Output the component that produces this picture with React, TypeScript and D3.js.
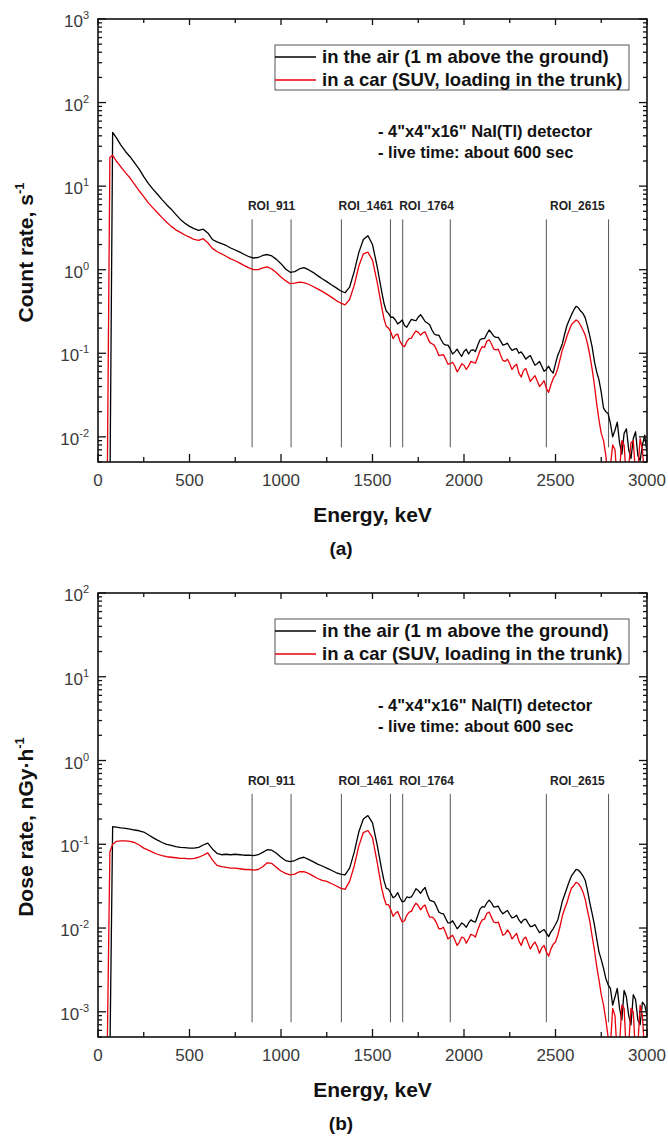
import React, { useRef, useEffect } from "react";
import * as d3 from "d3";

// energy channels (keV) shared by all four spectra; finer above 1550 keV where the spectra are noisy
const energies = [
  50, 65, 80,
  100, 125, 150, 175, 200, 225, 250, 275, 300, 325, 350, 375, 400, 425, 450, 475,
  500, 525, 550, 575, 600, 625, 650, 675, 700, 725, 750, 775, 800, 825, 850, 875, 900, 925, 950, 975,
  1000, 1025, 1050, 1075, 1100, 1125, 1150, 1175, 1200, 1225, 1250, 1275, 1300, 1325, 1350, 1375, 1400, 1425, 1450, 1475,
  1500, 1525,
  1550, 1562.5, 1575, 1587.5, 1600, 1612.5, 1625, 1637.5, 1650, 1662.5, 1675, 1687.5, 1700, 1712.5, 1725, 1737.5, 1750, 1762.5, 1775, 1787.5,
  1800, 1812.5, 1825, 1837.5, 1850, 1862.5, 1875, 1887.5, 1900, 1912.5, 1925, 1937.5, 1950, 1962.5, 1975, 1987.5, 2000, 2012.5, 2025, 2037.5,
  2050, 2062.5, 2075, 2087.5, 2100, 2112.5, 2125, 2137.5, 2150, 2162.5, 2175, 2187.5, 2200, 2212.5, 2225, 2237.5, 2250, 2262.5, 2275, 2287.5,
  2300, 2312.5, 2325, 2337.5, 2350, 2362.5, 2375, 2387.5, 2400, 2412.5, 2425, 2437.5, 2450, 2462.5, 2475, 2487.5, 2500, 2512.5, 2525, 2537.5,
  2550, 2562.5, 2575, 2587.5, 2600, 2612.5, 2625, 2637.5, 2650, 2662.5, 2675, 2687.5, 2700, 2712.5, 2725, 2737.5, 2750, 2762.5, 2775, 2787.5,
  2800, 2812.5, 2825, 2837.5, 2850, 2862.5, 2875, 2887.5, 2900, 2912.5, 2925, 2937.5, 2950, 2962.5, 2975, 2987.5,
  3000,
];

// (a) count rate, s^-1
const countAir = [
  0.002, 0.002, 44,
  38, 31, 26, 22.5, 19, 16, 13, 10.8, 9.2, 8.0, 6.9, 6.0, 5.3, 4.6, 4.0, 3.6,
  3.3, 3.1, 2.95, 3.05, 2.75, 2.3, 2.15, 2.05, 1.95, 1.82, 1.72, 1.62, 1.52, 1.43, 1.38, 1.4, 1.48, 1.52, 1.46, 1.33,
  1.18, 1.02, 0.93, 0.95, 1.02, 1.06, 1.0, 0.93, 0.85, 0.78, 0.72, 0.66, 0.61, 0.56, 0.53, 0.62, 0.95, 1.6, 2.3, 2.55,
  2.0, 1.1,
  0.55, 0.4, 0.32, 0.3, 0.27, 0.27, 0.25, 0.225, 0.235, 0.25, 0.215, 0.205, 0.23, 0.255, 0.25, 0.245, 0.27, 0.29, 0.265, 0.24,
  0.23, 0.22, 0.19, 0.17, 0.165, 0.165, 0.145, 0.13, 0.125, 0.125, 0.112, 0.098, 0.104, 0.112, 0.1, 0.092, 0.105, 0.112, 0.098, 0.108,
  0.11, 0.105, 0.125, 0.145, 0.15, 0.15, 0.17, 0.19, 0.175, 0.16, 0.155, 0.155, 0.14, 0.125, 0.128, 0.132, 0.118, 0.108, 0.112, 0.114,
  0.1, 0.104, 0.095, 0.085, 0.09, 0.094, 0.082, 0.072, 0.075, 0.08, 0.07, 0.061, 0.064, 0.07, 0.062, 0.058, 0.075, 0.095, 0.11, 0.13,
  0.17, 0.215, 0.25, 0.29, 0.33, 0.365, 0.35, 0.32, 0.3, 0.265, 0.21, 0.16, 0.12, 0.08, 0.06, 0.048, 0.034, 0.022, 0.02, 0.019,
  0.0145, 0.01, 0.012, 0.015, 0.0085, 0.0062, 0.011, 0.0125, 0.007, 0.0055, 0.0095, 0.0115, 0.006, 0.0052, 0.008, 0.0105,
  0.0065,
];
const countCar = [
  0.002, 22, 23.4,
  20, 17, 14.5, 12.5, 10.5, 8.8, 7.5, 6.3, 5.5, 4.8, 4.2, 3.7, 3.3, 3.0, 2.8, 2.6,
  2.45, 2.3, 2.25, 2.35, 2.1, 1.8, 1.65, 1.55, 1.45, 1.35, 1.28, 1.2, 1.12, 1.05, 1.0, 1.0, 1.05, 1.08, 1.02, 0.92,
  0.82, 0.74, 0.68, 0.69, 0.71, 0.7, 0.67, 0.63, 0.59, 0.55, 0.51, 0.47, 0.43, 0.4, 0.38, 0.44, 0.65, 1.1, 1.55, 1.62,
  1.3, 0.72,
  0.36, 0.26, 0.21, 0.2, 0.18, 0.15, 0.165, 0.17, 0.14, 0.125, 0.12, 0.138, 0.15, 0.152, 0.17, 0.185, 0.178, 0.165, 0.175, 0.18,
  0.155, 0.135, 0.13, 0.125, 0.11, 0.094, 0.095, 0.096, 0.085, 0.074, 0.075, 0.078, 0.07, 0.06, 0.066, 0.075, 0.072, 0.064, 0.07, 0.08,
  0.078, 0.076, 0.09, 0.108, 0.12, 0.118, 0.14, 0.145, 0.13, 0.112, 0.11, 0.112, 0.095, 0.082, 0.08, 0.085, 0.075, 0.064, 0.07, 0.074,
  0.058, 0.052, 0.062, 0.066, 0.055, 0.046, 0.05, 0.054, 0.047, 0.04, 0.043, 0.047, 0.038, 0.034, 0.042, 0.05, 0.055, 0.066, 0.085, 0.11,
  0.13, 0.16, 0.19, 0.22, 0.235, 0.25, 0.24, 0.215, 0.19, 0.165, 0.13, 0.095, 0.065, 0.042, 0.025, 0.016, 0.011, 0.009, 0.006, 0.003,
  0.0045, 0.008, 0.007, 0.003, 0.004, 0.009, 0.008, 0.003, 0.0045, 0.0085, 0.009, 0.0035, 0.004, 0.0095, 0.007, 0.003,
  0.004,
];

// (b) dose rate, nGy/h
const doseAir = [
  0.0003, 0.0003, 0.162,
  0.16, 0.157, 0.155, 0.152, 0.148, 0.145, 0.14, 0.13, 0.12, 0.112, 0.105, 0.1, 0.097, 0.094, 0.092, 0.091,
  0.09, 0.09, 0.092, 0.098, 0.103, 0.088, 0.078, 0.075, 0.076, 0.075, 0.076, 0.075, 0.074, 0.074, 0.073, 0.075, 0.08, 0.086, 0.085, 0.078,
  0.07, 0.064, 0.062, 0.064, 0.068, 0.07, 0.066, 0.062, 0.058, 0.055, 0.052, 0.049, 0.046, 0.044, 0.043, 0.052, 0.08, 0.14, 0.2, 0.22,
  0.18, 0.1,
  0.05, 0.037, 0.03, 0.029, 0.026, 0.023, 0.024, 0.0265, 0.023, 0.0205, 0.021, 0.0235, 0.023, 0.0235, 0.026, 0.0295, 0.028, 0.026, 0.0285, 0.0305,
  0.025, 0.0215, 0.021, 0.0205, 0.018, 0.0155, 0.015, 0.0148, 0.013, 0.0115, 0.0115, 0.0122, 0.011, 0.0098, 0.0105, 0.0115, 0.011, 0.0102, 0.0115, 0.0125,
  0.012, 0.0118, 0.014, 0.0168, 0.018, 0.0178, 0.02, 0.0215, 0.02, 0.0178, 0.018, 0.0182, 0.016, 0.0148, 0.0155, 0.0162, 0.0145, 0.0132, 0.0135, 0.0142,
  0.0125, 0.0115, 0.0125, 0.0128, 0.0115, 0.0104, 0.0105, 0.011, 0.0098, 0.0088, 0.0092, 0.0096, 0.0087, 0.0079, 0.009, 0.0098, 0.011, 0.0125, 0.016, 0.021,
  0.025, 0.03, 0.036, 0.042, 0.046, 0.05, 0.049, 0.046, 0.042, 0.037, 0.028, 0.02, 0.015, 0.011, 0.0075, 0.0052, 0.0042, 0.0033, 0.0025, 0.0021,
  0.0019, 0.0012, 0.0015, 0.0019, 0.0011, 0.0008, 0.0018, 0.0015, 0.0009, 0.0007, 0.0016, 0.0014, 0.0008, 0.0007, 0.0013, 0.0012,
  0.0009,
];
const doseCar = [
  0.0003, 0.081, 0.1,
  0.108, 0.11, 0.11, 0.108, 0.105, 0.098, 0.09, 0.085, 0.08, 0.076, 0.073, 0.071, 0.07, 0.069, 0.068, 0.068,
  0.067, 0.068, 0.07, 0.074, 0.079, 0.065, 0.056, 0.054, 0.053, 0.052, 0.052, 0.051, 0.05, 0.05, 0.049, 0.05, 0.054, 0.06, 0.059, 0.053,
  0.048, 0.045, 0.043, 0.044, 0.047, 0.047, 0.045, 0.042, 0.039, 0.037, 0.036, 0.034, 0.032, 0.03, 0.029, 0.036, 0.055, 0.095, 0.138, 0.146,
  0.12, 0.062,
  0.03, 0.023, 0.019, 0.019, 0.0165, 0.0138, 0.015, 0.0158, 0.0135, 0.0118, 0.0122, 0.0142, 0.0155, 0.0158, 0.018, 0.0198, 0.0186, 0.0165, 0.018, 0.0188,
  0.0155, 0.0135, 0.0135, 0.0128, 0.0115, 0.0098, 0.0098, 0.0102, 0.0088, 0.0074, 0.0078, 0.0082, 0.0072, 0.0062, 0.0068, 0.0078, 0.0076, 0.0066, 0.0074, 0.0084,
  0.0082, 0.0078, 0.0095, 0.0112, 0.0125, 0.0128, 0.015, 0.0155, 0.0135, 0.0118, 0.0115, 0.0118, 0.0098, 0.0082, 0.0085, 0.0095, 0.0087, 0.0074, 0.008, 0.0086,
  0.007, 0.0062, 0.0074, 0.0078, 0.0066, 0.0056, 0.0063, 0.0068, 0.006, 0.005, 0.0058, 0.0062, 0.0052, 0.0046, 0.0056, 0.0064, 0.0068, 0.0082, 0.0105, 0.014,
  0.017, 0.02, 0.025, 0.03, 0.032, 0.035, 0.034, 0.031, 0.027, 0.022, 0.016, 0.012, 0.008, 0.0055, 0.0035, 0.0024, 0.0016, 0.0012, 0.0008, 0.0005,
  0.0004, 0.0011, 0.0009, 0.0003, 0.0004, 0.0012, 0.0011, 0.0003, 0.0004, 0.0011, 0.001, 0.0003, 0.0004, 0.0012, 0.0009, 0.0003,
  0.0004,
];

const roiNames = ["ROI_911", "ROI_1461", "ROI_1764", "ROI_2615"];
const roiLow = [842, 1330, 1665, 2450];
const roiHigh = [1055, 1598, 1925, 2790];

const legendLabels = ["in the air (1 m above the ground)", "in a car (SUV, loading in the trunk)"];
const noteLines = ['- 4"x4"x16" NaI(Tl) detector', "- live time: about 600 sec"];
const energyTicks = [0, 500, 1000, 1500, 2000, 2500, 3000];
const energyMinorTicks = [250, 750, 1250, 1750, 2250, 2750];

const panels = [
  { id: "a", top: 19, bottom: 462, yMin: 0.005, yMax: 1000, roiTop: 4, roiBottom: 0.0075,
    air: countAir, car: countCar, title: "Count rate, s", tag: "(a)" },
  { id: "b", top: 593, bottom: 1037, yMin: 0.0005, yMax: 100, roiTop: 0.4, roiBottom: 0.00075,
    air: doseAir, car: doseCar, title: "Dose rate, nGy\u00b7h", tag: "(b)" },
];

const FONT = "'Liberation Sans', Arial, sans-serif";

export default function App() {
  const ref = useRef(null);

  useEffect(() => {
    const svg = d3.select(ref.current);
    svg.selectAll("*").remove();
    const left = 98;
    const right = 647;
    const x = d3.scaleLinear().domain([0, 3000]).range([left, right]);

    panels.forEach((p) => {
      const y = d3.scaleLog().domain([p.yMin, p.yMax]).range([p.bottom, p.top]);
      const g = svg.append("g").attr("font-family", FONT);

      g.append("clipPath")
        .attr("id", "clip-" + p.id)
        .append("rect")
        .attr("x", left)
        .attr("y", p.top)
        .attr("width", right - left)
        .attr("height", p.bottom - p.top);

      // ROI markers
      roiNames.forEach((name, i) => {
        [roiLow[i], roiHigh[i]].forEach((e) => {
          g.append("line")
            .attr("x1", x(e)).attr("x2", x(e))
            .attr("y1", y(p.roiTop)).attr("y2", y(p.roiBottom))
            .attr("stroke", "#555").attr("stroke-width", 1);
        });
        g.append("text")
          .attr("x", x((roiLow[i] + roiHigh[i]) / 2))
          .attr("y", y(p.roiTop) - 9)
          .attr("text-anchor", "middle")
          .attr("font-size", 12)
          .attr("font-weight", "bold")
          .attr("fill", "#222")
          .text(name);
      });

      const line = d3
        .line()
        .x((d) => x(d[0]))
        .y((d) => y(d[1]));

      const series = [
        { values: p.air, color: "#000" },
        { values: p.car, color: "#e8000b" },
      ];
      series.forEach((s) => {
        g.append("path")
          .datum(energies.map((e, i) => [e, s.values[i]]))
          .attr("clip-path", `url(#clip-${p.id})`)
          .attr("fill", "none")
          .attr("stroke", s.color)
          .attr("stroke-width", 1.3)
          .attr("stroke-linejoin", "round")
          .attr("d", line);
      });

      // frame
      g.append("rect")
        .attr("x", left).attr("y", p.top)
        .attr("width", right - left).attr("height", p.bottom - p.top)
        .attr("fill", "none").attr("stroke", "#111").attr("stroke-width", 1.6);

      // x ticks, inward on bottom and top
      const tickG = g.append("g").attr("stroke", "#111").attr("stroke-width", 1.3);
      energyTicks.forEach((e) => {
        tickG.append("line").attr("x1", x(e)).attr("x2", x(e)).attr("y1", p.bottom).attr("y2", p.bottom - 8);
        tickG.append("line").attr("x1", x(e)).attr("x2", x(e)).attr("y1", p.top).attr("y2", p.top + 6);
        g.append("text")
          .attr("x", x(e)).attr("y", p.bottom + 24)
          .attr("text-anchor", "middle").attr("font-size", 17).attr("fill", "#3a3a3a")
          .text(e);
      });
      energyMinorTicks.forEach((e) => {
        tickG.append("line").attr("x1", x(e)).attr("x2", x(e)).attr("y1", p.bottom).attr("y2", p.bottom - 5);
        tickG.append("line").attr("x1", x(e)).attr("x2", x(e)).attr("y1", p.top).attr("y2", p.top + 4);
      });

      // y ticks, log decades with minor ticks, both sides
      const lo = Math.floor(Math.log10(p.yMin));
      const hi = Math.round(Math.log10(p.yMax));
      for (let k = lo; k <= hi; k++) {
        const base = Math.pow(10, k);
        if (base >= p.yMin) {
          const yy = y(base);
          tickG.append("line").attr("x1", left).attr("x2", left + 8).attr("y1", yy).attr("y2", yy);
          tickG.append("line").attr("x1", right).attr("x2", right - 8).attr("y1", yy).attr("y2", yy);
          const t = g.append("text")
            .attr("x", 89).attr("y", yy + 8)
            .attr("text-anchor", "end").attr("font-size", 17).attr("fill", "#3a3a3a");
          t.append("tspan").text("10");
          t.append("tspan").attr("dy", -8).attr("font-size", 11).text(String(k));
        }
        for (let m = 2; m <= 9; m++) {
          const v = base * m;
          if (v < p.yMin || v > p.yMax) continue;
          const yy = y(v);
          tickG.append("line").attr("x1", left).attr("x2", left + 4).attr("y1", yy).attr("y2", yy);
          tickG.append("line").attr("x1", right).attr("x2", right - 4).attr("y1", yy).attr("y2", yy);
        }
      }

      // legend
      const lgTop = p.top + 26;
      g.append("rect")
        .attr("x", 275).attr("y", lgTop).attr("width", 354).attr("height", 45)
        .attr("fill", "#fff").attr("stroke", "#555").attr("stroke-width", 1);
      series.forEach((s, i) => {
        const ly = lgTop + 12 + i * 23;
        g.append("line")
          .attr("x1", 275).attr("x2", 316).attr("y1", ly).attr("y2", ly)
          .attr("stroke", s.color).attr("stroke-width", 1.4);
        g.append("text")
          .attr("x", 322).attr("y", ly + 6)
          .attr("font-size", 18.5).attr("font-weight", "bold").attr("fill", "#111")
          .text(legendLabels[i]);
      });

      noteLines.forEach((txt, i) => {
        g.append("text")
          .attr("x", 378).attr("y", p.top + 118 + i * 21)
          .attr("font-size", 16.5).attr("font-weight", "bold").attr("fill", "#111")
          .text(txt);
      });

      // axis titles
      const cy = (p.top + p.bottom) / 2 + 12;
      const yt = g.append("text")
        .attr("transform", `translate(33,${cy}) rotate(-90)`)
        .attr("text-anchor", "middle").attr("font-size", 21).attr("font-weight", "bold").attr("fill", "#111");
      yt.append("tspan").text(p.title);
      yt.append("tspan").attr("dy", -9).attr("font-size", 13).text("-1");

      g.append("text")
        .attr("x", (left + right) / 2).attr("y", p.bottom + 60)
        .attr("text-anchor", "middle").attr("font-size", 21).attr("font-weight", "bold").attr("fill", "#111")
        .text("Energy, keV");
      g.append("text")
        .attr("x", 341).attr("y", p.bottom + 93)
        .attr("text-anchor", "middle").attr("font-size", 19).attr("font-weight", "bold").attr("fill", "#111")
        .text(p.tag);
    });
  }, []);

  return (
    <div style={{ position: "absolute", left: 0, top: 0 }}>
      <svg ref={ref} width={668} height={1138} style={{ display: "block", background: "#fff" }} />
    </div>
  );
}
